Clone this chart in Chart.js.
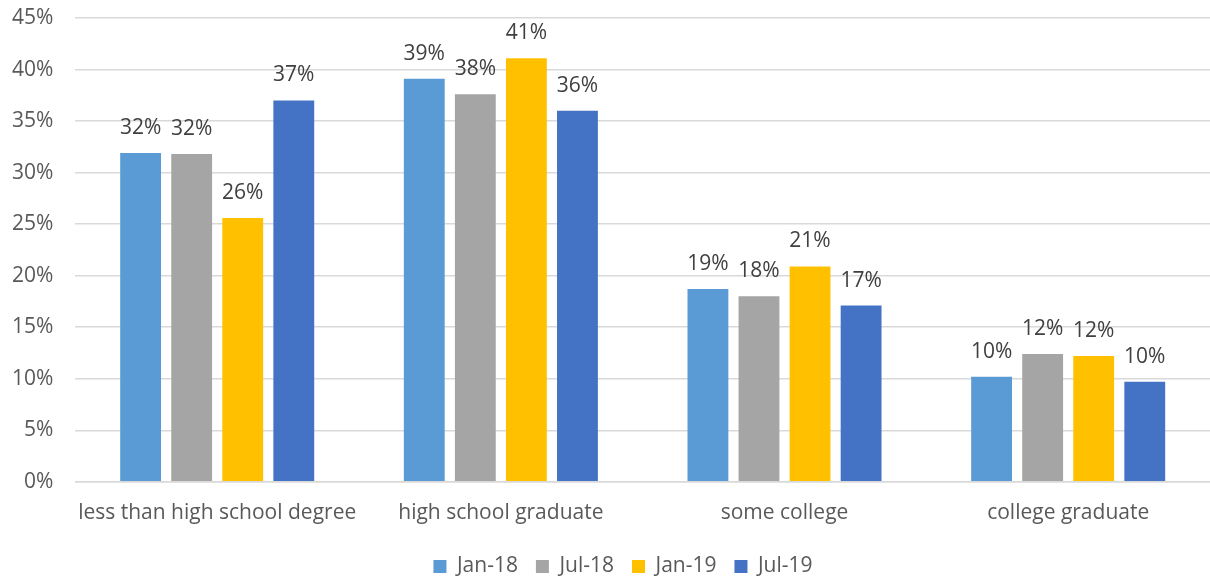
<!DOCTYPE html>
<html>
<head>
<meta charset="utf-8">
<script src="https://cdn.jsdelivr.net/npm/chart.js@4.4.1/dist/chart.umd.min.js"></script>
<style>
html,body{margin:0;padding:0;background:#fff;}
#wrap{width:1210px;height:577px;position:relative;}
</style>
</head>
<body>
<div id="wrap"><canvas id="c"></canvas></div>
<script>
const categories = ["less than high school degree", "high school graduate", "some college", "college graduate"];
const seriesNames = ["Jan-18", "Jul-18", "Jan-19", "Jul-19"];
const jan18 = [31.9, 39.1, 18.7, 10.2];
const jul18 = [31.8, 37.6, 18.0, 12.4];
const jan19 = [25.6, 41.1, 20.9, 12.2];
const jul19 = [37.0, 36.0, 17.1, 9.7];
const seriesColors = ["#5B9BD5", "#A5A5A5", "#FFC000", "#4472C4"];
const yTicks = [0, 5, 10, 15, 20, 25, 30, 35, 40, 45];

const FONT = "'Open Sans', 'Liberation Sans', sans-serif";
const FS = 21;

const valueLabels = {
  id: 'valueLabels',
  afterLayout(chart) {
    if (chart.legend) { chart.legend.left += 22; chart.legend.right += 22; }
  },
  afterDatasetsDraw(chart) {
    const ctx = chart.ctx;
    ctx.save();
    ctx.font = FS + "px " + FONT;
    ctx.fillStyle = "#404040";
    ctx.textAlign = "center";
    ctx.textBaseline = "middle";
    chart.data.datasets.forEach((ds, i) => {
      const meta = chart.getDatasetMeta(i);
      meta.data.forEach((bar, j) => {
        ctx.fillText(Math.round(ds.data[j]) + "%", bar.x, bar.y - 25);
      });
    });
    ctx.restore();
  }
};

const dataArrays = [jan18, jul18, jan19, jul19];
new Chart(document.getElementById('c'), {
  type: 'bar',
  data: {
    labels: categories,
    datasets: seriesNames.map((n, i) => ({
      label: n,
      data: dataArrays[i],
      backgroundColor: seriesColors[i],
      borderWidth: 0,
      categoryPercentage: 0.72,
      barPercentage: 0.8
    }))
  },
  options: {
    responsive: true,
    maintainAspectRatio: false,
    animation: false,
    devicePixelRatio: 1,
    layout: { padding: { top: 18, right: -2, left: -10, bottom: -10 } },
    plugins: {
      legend: {
        position: 'bottom',
        labels: {
          font: { family: FONT, size: FS },
          color: "#595959",
          boxWidth: 13,
          boxHeight: 13,
          padding: 18
        }
      },
      tooltip: { enabled: false }
    },
    scales: {
      x: {
        grid: { display: false, drawTicks: false },
        border: { display: true, color: "#D9D9D9", width: 1.5 },
        ticks: { font: { family: FONT, size: FS }, color: "#595959", padding: 19, maxRotation: 0, autoSkip: false },
        afterFit(scale) { scale.height -= 7; }
      },
      y: {
        min: 0, max: 45,
        afterBuildTicks(scale) { scale.ticks = yTicks.map(v => ({ value: v })); },
        afterFit(scale) { scale.paddingTop = 0; scale.paddingBottom = 0; },
        grid: { color: "#D9D9D9", lineWidth: 1.5, drawTicks: false },
        border: { display: false },
        ticks: {
          font: { family: FONT, size: FS }, color: "#595959", padding: 22,
          callback: v => v + "%"
        }
      }
    }
  },
  plugins: [valueLabels]
});
</script>
</body>
</html>
